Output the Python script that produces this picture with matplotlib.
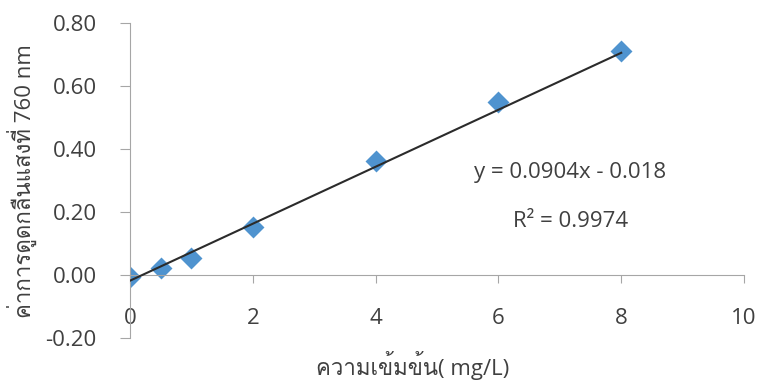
import matplotlib
matplotlib.use("Agg")
import matplotlib.pyplot as plt
from matplotlib import font_manager
from fontTools.ttLib import TTFont

# calibration data
conc = [0, 0.5, 1, 2, 4, 6, 8]
absorb = [-0.005, 0.022, 0.055, 0.152, 0.363, 0.550, 0.712]
slope = 0.0904
intercept = -0.018
eq_text = "y = 0.0904x - 0.018"
r2_text = "R² = 0.9974"
x_ticks = [0, 2, 4, 6, 8, 10]
y_ticks = [-0.20, 0.00, 0.20, 0.40, 0.60, 0.80]
x_label = "ความเข้มข้น( mg/L)"
y_label = "ค่าการดูดกลืนแสงที่ 760 nm"


def find_thai_font():
    for f in font_manager.fontManager.ttflist:
        try:
            cmap = TTFont(f.fname, fontNumber=0, lazy=True).getBestCmap()
        except Exception:
            continue
        if cmap and 0x0E04 in cmap and 0x0E48 in cmap:
            return f.name
    return None


thai = find_thai_font()
families = ["Open Sans", "DejaVu Sans"]
if thai:
    families = ["Open Sans", thai, "DejaVu Sans"]
plt.rcParams["font.family"] = families

text_col = "#404040"
axis_col = "#a6a6a6"
fs = 16

fig = plt.figure(figsize=(7.6, 3.82), dpi=100)
ax = fig.add_axes([0.171, 0.115, 0.808, 0.825])

fit_x = [conc[0], conc[-1]]
fit_y = [slope * v + intercept for v in fit_x]
ax.scatter(conc, absorb, marker="D", s=125, color="#4f93cf", zorder=2, linewidths=0)
ax.plot(fit_x, fit_y, color="#2b2b2b", lw=1.5, zorder=3)

ax.set_xlim(0, 10)
ax.set_ylim(-0.20, 0.80)
ax.set_xticks(x_ticks)
ax.set_yticks(y_ticks)
ax.set_yticklabels([f"{v:.2f}" for v in y_ticks])

for s in ["top", "right"]:
    ax.spines[s].set_visible(False)
ax.spines["bottom"].set_position(("data", 0))
ax.spines["left"].set_color(axis_col)
ax.spines["bottom"].set_color(axis_col)

ax.tick_params(axis="y", direction="out", length=7, color=axis_col,
               labelsize=fs, labelcolor=text_col, pad=17)
ax.tick_params(axis="x", direction="out", length=6, color=axis_col,
               labelsize=fs, labelcolor=text_col, pad=18)

fig.text(22 / 760, 1 - 181 / 382, y_label, fontsize=fs, color=text_col,
         rotation=90, ha="center", va="center")
fig.text(413 / 760, 1 - 366 / 382, x_label, fontsize=fs, color=text_col,
         ha="center", va="center")

ax.text(7.17, 0.325, eq_text, fontsize=fs, color=text_col, ha="center", va="center")
ax.text(7.17, 0.170, r2_text, fontsize=fs, color=text_col, ha="center", va="center")

fig.savefig("out.png", dpi=100)
